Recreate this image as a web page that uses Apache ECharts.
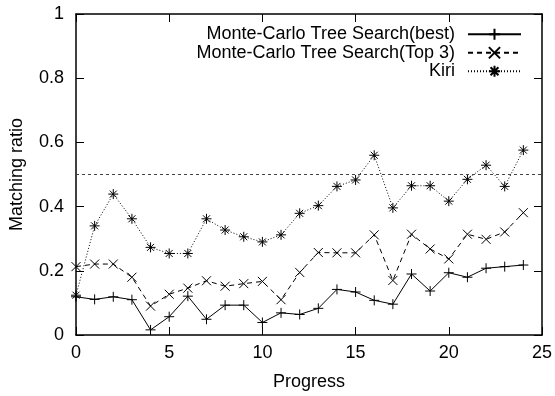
<!DOCTYPE html>
<html>
<head>
<meta charset="utf-8">
<script src="https://cdn.jsdelivr.net/npm/echarts@6/dist/echarts.min.js"></script>
<style>
  html, body { margin: 0; padding: 0; background: #fff; }
  #chart { width: 555px; height: 396px; }
</style>
</head>
<body>
<div id="chart"></div>
<script>
// data
const progress = [0, 1, 2, 3, 4, 5, 6, 7, 8, 9, 10, 11, 12, 13, 14, 15, 16, 17, 18, 19, 20, 21, 22, 23, 24];
const mctsBest = [0.119, 0.111, 0.119, 0.110, 0.016, 0.057, 0.121, 0.049, 0.093, 0.093, 0.039, 0.069, 0.064,
                  0.083, 0.142, 0.134, 0.108, 0.096, 0.190, 0.137, 0.194, 0.180, 0.208, 0.213, 0.218];
const mctsTop3 = [0.213, 0.221, 0.221, 0.180, 0.090, 0.127, 0.146, 0.169, 0.152, 0.160, 0.167, 0.110, 0.195,
                  0.257, 0.256, 0.256, 0.312, 0.170, 0.314, 0.268, 0.237, 0.314, 0.298, 0.321, 0.381];
const kiri = [0.124, 0.340, 0.439, 0.362, 0.273, 0.254, 0.254, 0.362, 0.327, 0.306, 0.290, 0.312, 0.379,
              0.403, 0.463, 0.483, 0.560, 0.396, 0.465, 0.465, 0.417, 0.485, 0.529, 0.463, 0.576];
const refLine = 0.5;
const seriesNames = ['Monte-Carlo Tree Search(best)', 'Monte-Carlo Tree Search(Top 3)', 'Kiri'];

const font = 'Liberation Sans, Arial, sans-serif';
const pts = arr => progress.map((x, i) => [x, arr[i]]);

// gnuplot-like point marks
const plusMark = 'path://M0,5L10,5M5,0L5,10';
const crossMark = 'path://M0,0L10,10M10,0L0,10';
const starMark = 'path://M0,5L10,5M5,0L5,10M1.5,1.5L8.5,8.5M8.5,1.5L1.5,8.5';

const markStyle = { color: '#000', borderColor: '#000', borderWidth: 1 };
const axisLine = { show: true, onZero: false, lineStyle: { color: '#000', width: 1.5 } };
const axisTick = { show: true, inside: true, length: 8, lineStyle: { color: '#000', width: 1 } };

function mirrorAxis(pos, max, interval) {
    return {
        type: 'value', position: pos, min: 0, max: max, interval: interval,
        axisLine: axisLine,
        axisTick: axisTick,
        axisLabel: { show: false },
        splitLine: { show: false }
    };
}

const chart = echarts.init(document.getElementById('chart'));
chart.setOption({
    animation: false,
    backgroundColor: '#fff',
    grid: { left: 75, right: 13, top: 14, bottom: 58 },
    legend: {
        orient: 'vertical',
        right: 28,
        top: 20,
        align: 'right',
        itemWidth: 53,
        itemHeight: 14,
        itemGap: 0,
        textStyle: { fontFamily: font, fontSize: 18, lineHeight: 18.5, color: '#000', padding: [0, 8, 0, 0] },
        data: seriesNames
    },
    xAxis: [{
        type: 'value', min: 0, max: 25, interval: 5,
        name: 'Progress', nameLocation: 'middle', nameGap: 38,
        nameTextStyle: { fontFamily: font, fontSize: 18, color: '#000' },
        axisLine: axisLine,
        axisTick: axisTick,
        axisLabel: { fontFamily: font, fontSize: 18, color: '#000', margin: 9 },
        splitLine: { show: false }
    }, mirrorAxis('top', 25, 5)],
    yAxis: [{
        type: 'value', min: 0, max: 1, interval: 0.2,
        name: 'Matching ratio', nameLocation: 'middle', nameGap: 50,
        nameTextStyle: { fontFamily: font, fontSize: 18, color: '#000' },
        axisLine: axisLine,
        axisTick: axisTick,
        axisLabel: { fontFamily: font, fontSize: 18, color: '#000', margin: 12 },
        splitLine: { show: false }
    }, mirrorAxis('right', 1, 0.2)],
    series: [{
        name: seriesNames[0], type: 'line', data: pts(mctsBest),
        symbol: plusMark, symbolSize: 10, showAllSymbol: true,
        lineStyle: { color: '#000', width: 1, type: 'solid' },
        itemStyle: markStyle
    }, {
        name: seriesNames[1], type: 'line', data: pts(mctsTop3),
        symbol: crossMark, symbolSize: 9, showAllSymbol: true,
        lineStyle: { color: '#000', width: 1, type: [5, 4] },
        itemStyle: markStyle
    }, {
        name: seriesNames[2], type: 'line', data: pts(kiri),
        symbol: starMark, symbolSize: 10, showAllSymbol: true,
        lineStyle: { color: '#000', width: 1, type: [1, 2] },
        itemStyle: markStyle,
        markLine: {
            silent: true, symbol: 'none',
            label: { show: false },
            lineStyle: { color: '#444', width: 1, type: [3, 3] },
            data: [{ yAxis: refLine }]
        }
    }]
});
</script>
</body>
</html>
